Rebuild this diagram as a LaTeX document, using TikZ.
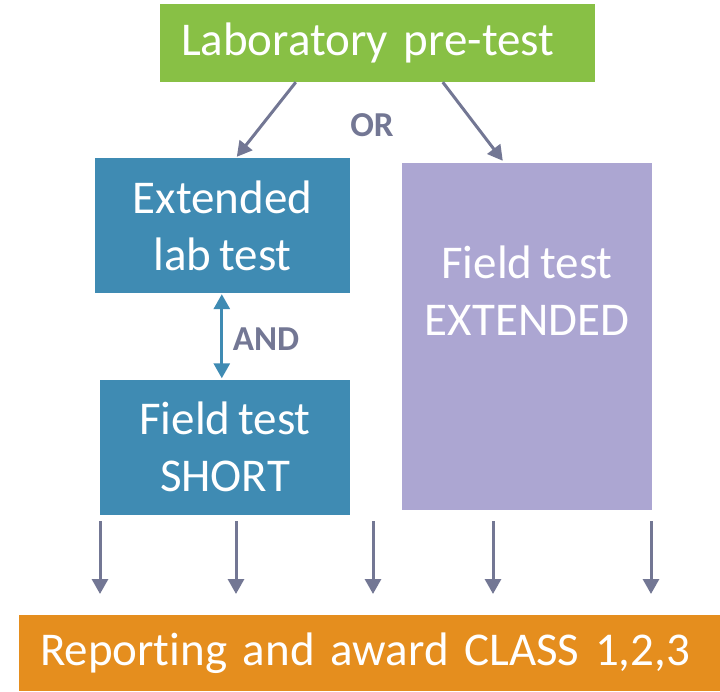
\documentclass[tikz,border=0pt]{standalone}
\usepackage{fontspec}
\setmainfont{Carlito}[Ligatures=NoCommon]
\usepackage{xcolor}
\usetikzlibrary{arrows.meta}

\definecolor{pregreen}{HTML}{88C045}
\definecolor{labblue}{HTML}{3F8BB3}
\definecolor{fieldlilac}{HTML}{ACA6D2}
\definecolor{awardorange}{HTML}{E58E1E}
\definecolor{arrowgray}{HTML}{737794}

% box text: large, with narrow word gaps
\newcommand\boxfont{\fontsize{47}{57}\selectfont\spaceskip=0.17em\relax}

\tikzset{
  box/.style={fill=#1, text=white, inner sep=0pt, align=center,
    font=\boxfont},
  wide/.style={align=left, inner xsep=21pt},
  flow/.style={draw=arrowgray, line width=3pt,
    -{Triangle[width=16pt,length=15pt]}},
  both/.style={draw=labblue, line width=3pt,
    {Triangle[width=16pt,length=15pt]}-{Triangle[width=16pt,length=15pt]}},
  word/.style={text=arrowgray, font=\fontsize{35}{40}\selectfont\bfseries}
}

\begin{document}
\begin{tikzpicture}[x=1pt,y=-1pt]
\useasboundingbox (0,0) rectangle (720,691);

\node[box=pregreen, wide, minimum height=78pt, text width=393pt] (pre) at (377.5,43) {Laboratory pre-test};
\node[box=labblue, minimum width=255pt, minimum height=135pt] (ext) at (222.5,225.5) {Extended\\lab test};
\node[box=labblue, minimum width=250pt, minimum height=135pt] (short) at (225,447) {Field test\\SHORT};
\node[box=fieldlilac, minimum width=250pt, minimum height=347pt] (fext) at (527,336.5) {};
\node[box=fieldlilac] (fexttext) at (527,291) {Field test\\EXTENDED};
\node[box=awardorange, wide, minimum height=76pt, text width=659pt] (award) at (369.5,653) {Reporting and award CLASS 1,2,3};

\node[word] (or) at (372,125) {OR};
\node[word] (and) at (266,339) {AND};

\draw[flow] ([xshift=136pt]pre.south west) -- ([xshift=142pt,yshift=1pt]ext.north west);
\draw[flow] ([xshift=283pt]pre.south west) -- ([xshift=101pt,yshift=2pt]fext.north west);
\draw[both] ([xshift=127pt,yshift=-1pt]ext.south west) -- ([xshift=122pt,yshift=1pt]short.north west);

\foreach \x [count=\i] in {100,236,373,493,651} {
  \coordinate (top\i) at (\x,521);
  \coordinate (tip\i) at (\x,594);
  \draw[flow] (top\i) -- (tip\i);
}

\end{tikzpicture}
\end{document}
